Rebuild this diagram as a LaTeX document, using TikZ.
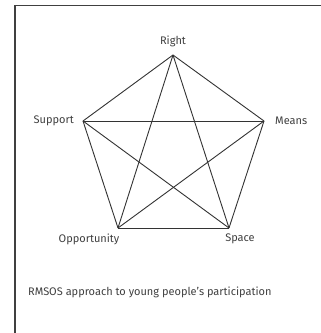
\documentclass[tikz,border=0pt]{standalone}
\usepackage{fontspec}
\setmainfont{Fira Sans}
\begin{document}
\begin{tikzpicture}[x=1pt,y=1pt,
  edge/.style={draw=black!80, line width=0.9pt},
  lab/.style={inner sep=0pt, font=\fontsize{11}{13}\selectfont, text=black!75},
  frame/.style={draw=black!75, line width=1.4pt}]
\useasboundingbox (0,0) rectangle (321,-333);
\fill[white] (0,0) rectangle (321,-333);
\draw[frame] (15,-340) -- (15,-5.5) -- (330,-5.5);
\coordinate (R) at (173,-55);
\coordinate (M) at (264,-121);
\coordinate (Sp) at (229,-228);
\coordinate (O) at (118,-228);
\coordinate (Su) at (83,-121);
\foreach \a/\b in {R/M,M/Sp,Sp/O,O/Su,Su/R,R/Sp,R/O,M/O,M/Su,Su/Sp}
  \draw[edge] (\a) -- (\b);
\node[lab] (lR) at (173,-41) {Right};
\node[lab, anchor=east] (lSu) at (74,-121) {Support};
\node[lab, anchor=west] (lM) at (275,-121) {Means};
\node[lab] (lO) at (89,-239) {Opportunity};
\node[lab] (lSp) at (240,-239) {Space};
\node[lab, anchor=west] (cap) at (28,-292) {RMSOS approach to young people’s participation};
\end{tikzpicture}
\end{document}
